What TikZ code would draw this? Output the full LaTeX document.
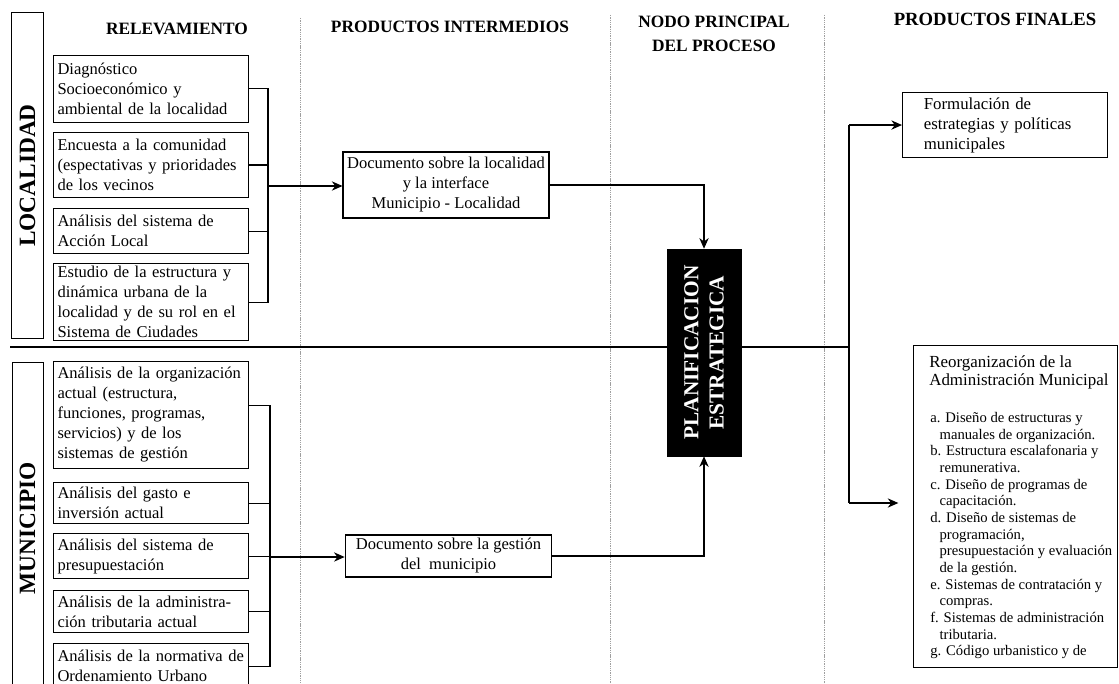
\documentclass[tikz,border=0pt]{standalone}
\usepackage{fontspec}
\setmainfont{Liberation Serif}
\usetikzlibrary{arrows.meta,calc}
\begin{document}
\begin{tikzpicture}[x=0.75pt,y=-0.75pt,
  conn/.style={line width=0.8pt},
  arr/.style={line width=0.8pt,-{Stealth[length=8pt,width=7pt]}},
  divider/.style={line width=0.7pt,gray!75,dash pattern=on 1pt off 0.7pt},
  hdr/.style={font=\bfseries\fontsize{13}{18}\selectfont,align=center,inner sep=0pt},
  sidebox/.style={draw,line width=0.8pt,anchor=north west,inner sep=0pt},
  sidelabel/.style={rotate=90,font=\bfseries\fontsize{17.5}{20}\selectfont,inner sep=0pt},
  lbox/.style={draw,line width=0.8pt,anchor=north west,inner ysep=1pt,inner xsep=3pt,
    text width=140.25pt,align=left,font=\fontsize{12.4}{15}\selectfont,
    execute at begin node={\hyphenpenalty=10000\relax}},
  dbox/.style={draw,line width=0.8pt,align=center,inner sep=2pt,font=\fontsize{12.4}{15}\selectfont},
  txt/.style={anchor=north west,inner sep=0pt,align=left}
]
\useasboundingbox (0,0) rectangle (1119,684);
\clip (0,0) rectangle (1119,684);

% dividers
\coordinate (d1t) at (300,18); \coordinate (d1b) at (300,684);
\coordinate (d2t) at (610,15); \coordinate (d2b) at (610,684);
\coordinate (d3t) at (824,15); \coordinate (d3b) at (824,684);
\draw[divider] (d1t) -- (d1b);
\draw[divider] (d2t) -- (d2b);
\draw[divider] (d3t) -- (d3b);

% headers
\node[hdr] (h1) at (177,29) {RELEVAMIENTO};
\node[hdr] (h2) at (450,27) {PRODUCTOS INTERMEDIOS};
\node[hdr] (h3) at (714,34) {NODO PRINCIPAL\\DEL PROCESO};
\node[hdr,font=\bfseries\fontsize{14}{18}\selectfont] (h4) at (995,19) {PRODUCTOS FINALES};

% side labels
\node[sidebox,minimum width=24pt,minimum height=244.5pt] (LOC) at (11,12) {};
\node[sidelabel] (loct) at (LOC.center) {LOCALIDAD};
\node[sidebox,minimum width=23.25pt,minimum height=253.5pt] (MUN) at (12,362) {};
\node[sidelabel] (munt) at (27.5,528) {MUNICIPIO};

% relevamiento boxes - localidad
\node[lbox,minimum height=50pt] (L1) at (53,55) {Diagnóstico\\Socioeconómico y\\ambiental de la localidad};
\node[lbox,minimum height=48.75pt] (L2) at (53,132) {Encuesta a la comunidad\\(espectativas y prioridades\\de los vecinos};
\node[lbox,minimum height=33.75pt] (L3) at (53,208) {Análisis del sistema de\\Acción Local};
\node[lbox,minimum height=57.75pt] (L4) at (53,263) {Estudio de la estructura y\\dinámica urbana de la\\localidad y de su rol en el\\Sistema de Ciudades};

% relevamiento boxes - municipio
\node[lbox,minimum height=80pt] (M1) at (53,361) {Análisis de la organización\\actual (estructura,\\funciones, programas,\\servicios) y de los\\sistemas de gestión};
\node[lbox,minimum height=30.75pt] (M2) at (53,482) {Análisis del gasto e\\inversión actual};
\node[lbox,minimum height=33.75pt] (M3) at (53,533) {Análisis del sistema de\\presupuestación};
\node[lbox,minimum height=31.5pt] (M4) at (53,590) {Análisis de la administra-\\ción tributaria actual};
\node[lbox,minimum height=34pt] (M5) at (53,643) {Análisis de la normativa de\\Ordenamiento Urbano};

% intermediate products
\node[dbox,minimum width=154.5pt,minimum height=49.5pt] (D1) at (446,185) {Documento sobre la localidad\\y la interface\\Municipio - Localidad};
\node[dbox,minimum width=155pt,minimum height=31.5pt] (D2) at (448.5,556) {Documento sobre la gestión\\del\ \ municipio};

% main horizontal line
\coordinate (hl) at (10,347);
\coordinate (hr) at (849,347);
\draw[conn] (hl) -- (hr);

% main node
\node[fill=black,draw=black,minimum width=55.5pt,minimum height=155.25pt,inner sep=0pt] (P) at (704,352.5) {};
\node[rotate=90,text=white,align=center,inner sep=0pt,font=\bfseries\fontsize{16}{19}\selectfont] (pt) at (P.center) {PLANIFICACION\\ESTRATEGICA};

% final products
\node[draw,line width=0.8pt,anchor=north west,text width=122pt,inner xsep=16pt,inner ysep=1pt,minimum height=48.75pt,align=left,font=\fontsize{12.6}{15}\selectfont] (F) at (902,92) {Formulación de\\estrategias y políticas\\municipales};
\node[draw,line width=0.8pt,anchor=north west,minimum width=153pt,minimum height=241.5pt,inner sep=0pt] (R) at (913,345) {};
\node[txt,font=\fontsize{12.7}{13.8}\selectfont] (Rt) at (929,355) {Reorganización de la\\Administración Municipal};
\node[txt,font=\fontsize{11}{12.5}\selectfont] (Rl) at (930,412) {a. Diseño de estructuras y\\
\hspace*{7pt}manuales de organización.\\
b. Estructura escalafonaria y\\
\hspace*{7pt}remunerativa.\\
c. Diseño de programas de\\
\hspace*{7pt}capacitación.\\
d. Diseño de sistemas de\\
\hspace*{7pt}programación,\\
\hspace*{7pt}presupuestación y evaluación\\
\hspace*{7pt}de la gestión.\\
e. Sistemas de contratación y\\
\hspace*{7pt}compras.\\
f. Sistemas de administración\\
\hspace*{7pt}tributaria.\\
g. Código urbanistico y de};

% brackets localidad
\coordinate (bl) at (268,186);
\draw[conn] (L1.east) -- (L1.east -| bl) -- (L4.east -| bl) -- (L4.east);
\draw[conn] (L2.east) -- (L2.east -| bl);
\draw[conn] (L3.east) -- (L3.east -| bl);
\draw[arr] (bl) -- (bl -| D1.west);

% brackets municipio
\coordinate (bm) at (270,557);
\draw[conn] ([yshift=7pt]M1.east) -- ([yshift=7pt]M1.east -| bm) -- (M5.east -| bm) -- (M5.east);
\draw[conn] (M2.east) -- (M2.east -| bm);
\draw[conn] (M3.east) -- (M3.east -| bm);
\draw[conn] (M4.east) -- (M4.east -| bm);
\draw[arr] (bm) -- (bm -| D2.west);

% to main node
\draw[arr] (D1.east) -| (P.north);
\draw[arr] (D2.east) -| (P.south);

% to final products
\coordinate (vt) at (hr |- F.west);
\coordinate (vb) at (849,503);
\draw[conn] (vt) -- (vb);
\draw[arr] (vt) -- (F.west);
\draw[arr,shorten >=11pt] (vb) -- (vb -| R.west);
\end{tikzpicture}
\end{document}
